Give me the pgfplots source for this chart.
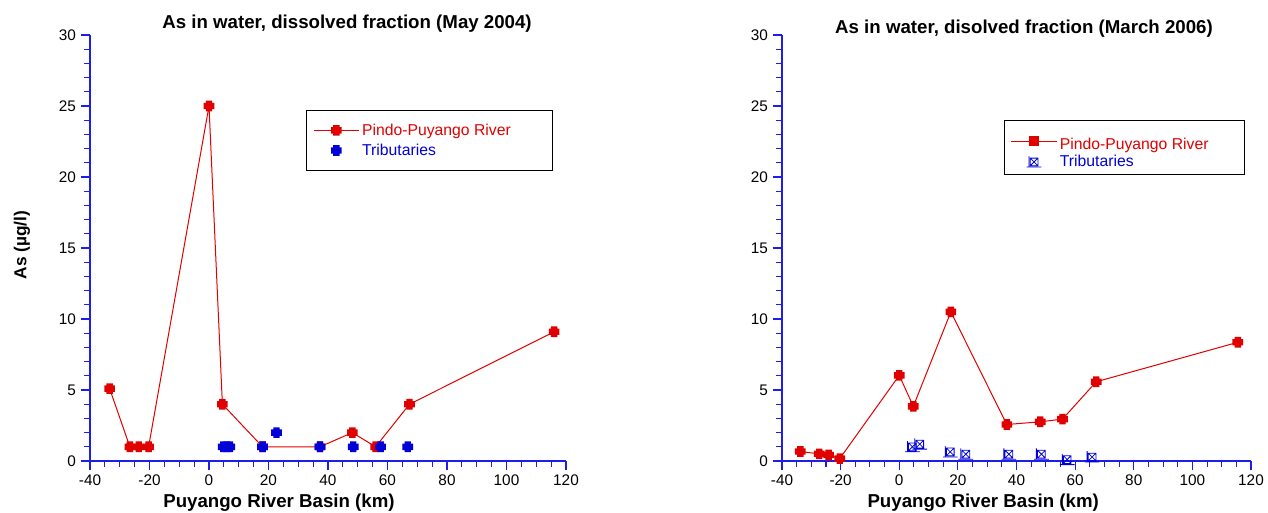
\documentclass[border=0pt]{standalone}
\usepackage{pgfplots}
\pgfplotsset{compat=1.18}
\usepackage{fontspec}
\setmainfont{Liberation Sans}
\definecolor{rred}{RGB}{225,0,0}
\definecolor{bblue}{RGB}{0,0,215}
\definecolor{axblue}{RGB}{30,30,235}

\pgfdeclareplotmark{fatplus}{%
  \pgfpathrectangle{\pgfpoint{-\pgfplotmarksize}{-0.6\pgfplotmarksize}}{\pgfpoint{2\pgfplotmarksize}{1.2\pgfplotmarksize}}%
  \pgfpathrectangle{\pgfpoint{-0.6\pgfplotmarksize}{-\pgfplotmarksize}}{\pgfpoint{1.2\pgfplotmarksize}{2\pgfplotmarksize}}%
  \pgfusepathqfill}
\pgfdeclareplotmark{boxx}{%
  \pgfpathrectangle{\pgfpoint{-\pgfplotmarksize}{-\pgfplotmarksize}}{\pgfpoint{2\pgfplotmarksize}{2\pgfplotmarksize}}%
  \pgfpathmoveto{\pgfpoint{-\pgfplotmarksize}{-\pgfplotmarksize}}\pgfpathlineto{\pgfpoint{\pgfplotmarksize}{\pgfplotmarksize}}%
  \pgfpathmoveto{\pgfpoint{-\pgfplotmarksize}{\pgfplotmarksize}}\pgfpathlineto{\pgfpoint{\pgfplotmarksize}{-\pgfplotmarksize}}%
  \pgfpathmoveto{\pgfpoint{-1.9\pgfplotmarksize}{-1.3\pgfplotmarksize}}\pgfpathlineto{\pgfpoint{1.9\pgfplotmarksize}{-1.3\pgfplotmarksize}}%
  \pgfpathmoveto{\pgfpoint{-1.3\pgfplotmarksize}{-1.3\pgfplotmarksize}}\pgfpathlineto{\pgfpoint{-1.3\pgfplotmarksize}{1.5\pgfplotmarksize}}%
  \pgfusepathqstroke}

\pgfplotsset{
  every axis title shift=0pt,
  myax/.style={
    scale only axis, height=319.5pt,
    xmin=-40, xmax=120, ymin=0, ymax=30,
    axis lines*=left,
    axis line style={axblue, line width=1.1pt},
    xtick={-40,-20,...,120}, ytick={0,5,...,30},
    minor x tick num=3, minor y tick num=4,
    tick align=outside,
    tick style={axblue, line width=0.8pt},
    major tick length=7pt, minor tick length=4.5pt,
    tick label style={font=\fontsize{11.5}{13}\selectfont, text=black},
    /pgf/number format/assume math mode=true,
    clip=false,
    title style={font=\bfseries\fontsize{14}{16}\selectfont},
    xlabel style={font=\bfseries\fontsize{14}{16}\selectfont},
    ylabel style={font=\bfseries\fontsize{13}{15}\selectfont},
    legend style={draw=black, line width=0.6pt, font=\fontsize{11.8}{13}\selectfont,
      anchor=north west, inner xsep=5pt, inner ysep=8pt, row sep=1pt,
      nodes={inner sep=2pt}},
    legend cell align=left,
    legend image code/.code={\draw[mark repeat=2,mark phase=2,##1] plot coordinates {(0pt,0pt) (17pt,0pt) (34pt,0pt)};},
  }
}

\begin{document}
\begin{tikzpicture}
\useasboundingbox (0,0) rectangle (951pt,384pt);

% ---------- May 2004 ----------
\begin{axis}[myax, width=357pt,
  at={(67.5pt,38.25pt)}, anchor=south west,
  title={As in water, dissolved fraction (May 2004)},
  title style={at={(axis description cs:0.54,1.027)}, anchor=center},
  xlabel={Puyango River Basin (km)},
  xlabel style={at={(axis description cs:0.397,-0.099)}, anchor=center},
  ylabel={As (µg/l)},
  ylabel style={at={(axis description cs:-0.143,0.507)}, anchor=center, rotate=0},
  legend style={at={(axis description cs:0.454,0.824)}},
]
\addplot[rred, line width=0.75pt, mark=fatplus, mark size=4pt, mark options={solid}] coordinates {
  (-33.4,5.1) (-26.6,1.0) (-23.6,1.0) (-20.3,1.0) (0,25.0) (4.5,4.0) (18.0,1.0)
  (37.3,1.0) (48.2,2.0) (56.0,1.0) (67.4,4.0) (116.0,9.1)};
\addlegendentry{\color{rred}Pindo-Puyango River\hspace{24pt}\null}
\addplot[bblue, only marks, mark=fatplus, mark size=4pt] coordinates {
  (4.8,1.0) (5.9,1.0) (7.0,1.0) (18.0,1.0) (22.7,2.0) (37.3,1.0)
  (48.5,1.0) (57.7,1.0) (66.8,1.0)};
\addlegendentry{\color{bblue}Tributaries}
\end{axis}

% ---------- March 2006 ----------
\begin{axis}[myax, width=351.75pt,
  at={(586.5pt,38.25pt)}, anchor=south west,
  title={As in water, disolved fraction (March 2006)},
  title style={at={(axis description cs:0.516,1.015)}, anchor=center},
  xlabel={Puyango River Basin (km)},
  xlabel style={at={(axis description cs:0.429,-0.099)}, anchor=center},
  legend style={at={(axis description cs:0.473,0.8)}, inner ysep=2pt, row sep=-1pt},
]
\addplot[rred, line width=0.75pt, mark=fatplus, mark size=4pt,
  legend image code/.code={\draw[rred, line width=0.75pt] (0pt,-2pt) -- (34pt,-2pt);
    \fill[rred] (13.5pt,-5.5pt) rectangle (20.5pt,1.5pt);}] coordinates {
  (-33.75,0.67) (-27.3,0.5) (-24.1,0.42) (-20.3,0.17) (0,6.03) (4.8,3.85) (17.6,10.5)
  (36.7,2.57) (48.1,2.76) (55.7,2.95) (67.2,5.58) (115.5,8.36)};
\addlegendentry{\color{rred}\rule{0pt}{17.5pt}Pindo-Puyango River\hspace{19.5pt}\null}
\addplot[bblue, only marks, mark=boxx, mark size=2.9pt, line width=0.6pt] coordinates {
  (4.5,1.0) (7.0,1.19) (17.4,0.64) (22.7,0.48) (37.4,0.48) (48.5,0.48)
  (57.3,0.1) (65.8,0.28)};
\addlegendentry{\color{bblue}Tributaries}
\end{axis}
\end{tikzpicture}
\end{document}
